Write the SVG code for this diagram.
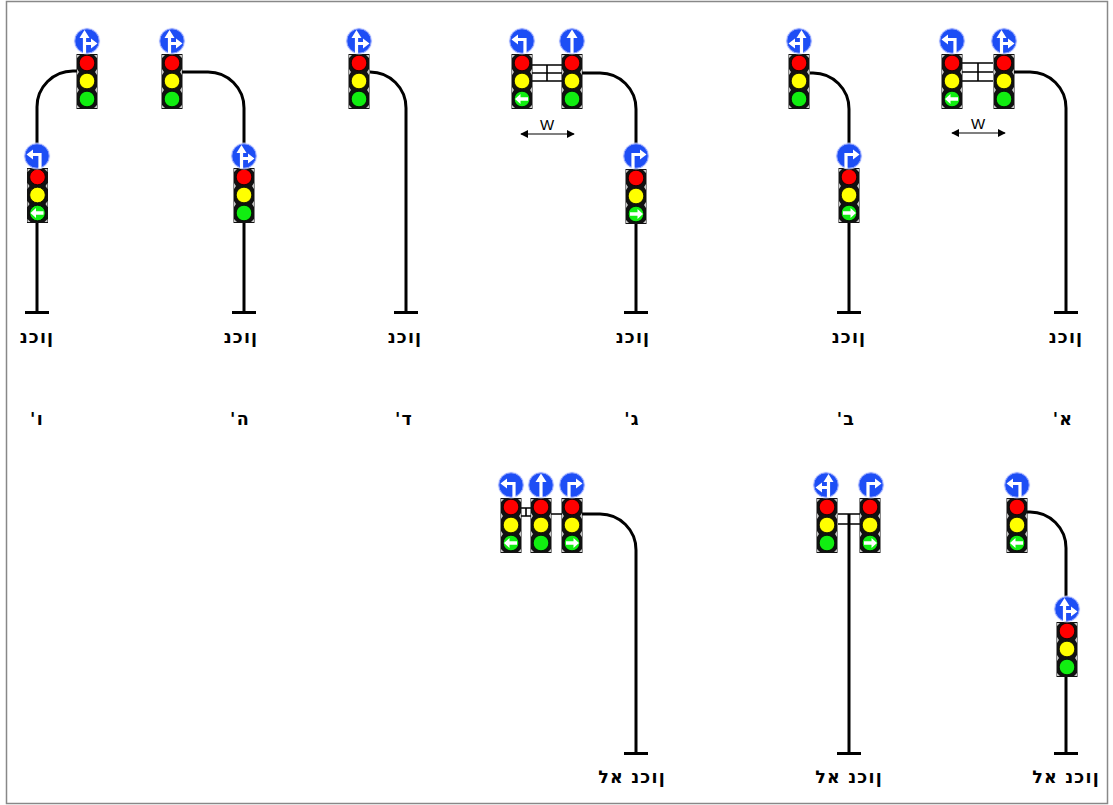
<svg xmlns="http://www.w3.org/2000/svg" xmlns:xlink="http://www.w3.org/1999/xlink" width="1113" height="805" viewBox="0 0 1113 805">
  <style>
    .pole { fill: none; stroke: #000; stroke-width: 3; }
    .bar { fill: none; stroke: #000; stroke-width: 1.6; }
    .lbl { font-family: "DejaVu Sans", "Liberation Sans", sans-serif; font-weight: bold; font-size: 17.5px; letter-spacing: 1.2px; text-anchor: middle; fill: #000; }
    .w { font-family: "Liberation Sans", Arial, sans-serif; font-size: 15px; text-anchor: middle; fill: #000; }
    .dim { stroke: #000; stroke-width: 1.2; fill: none; }
    .arw { fill: #fff; stroke: none; }
    .shaft { fill: none; stroke: #fff; stroke-width: 3.2; }
  </style>
  <defs>
    <marker id="tip" viewBox="0 0 10 10" refX="9" refY="5" markerWidth="8" markerHeight="8" orient="auto-start-reverse" markerUnits="userSpaceOnUse">
      <path d="M0,0 L10,5 L0,10 Z" fill="#000"/>
    </marker>
    <!-- signal head: centred on x=0, top edge at y=0 -->
    <g id="head">
      <rect x="-10.5" y="0" width="21" height="55" fill="#111"/>
      <g fill="#c8c8c8">
        <path d="M-10,1 L-7,1 L-10,4 Z M10,1 L7,1 L10,4 Z"/>
        <path d="M-10,15 L-10,21 L-8,18 Z M10,15 L10,21 L8,18 Z"/>
        <path d="M-10,33 L-10,39 L-8,36 Z M10,33 L10,39 L8,36 Z"/>
        <path d="M-10,54 L-7,54 L-10,51 Z M10,54 L7,54 L10,51 Z"/>
      </g>
      <circle cx="0" cy="9" r="7.8" fill="#ff0000" stroke="#000" stroke-width="0.8"/>
      <circle cx="0" cy="27" r="7.8" fill="#ffff00" stroke="#000" stroke-width="0.8"/>
      <circle cx="0" cy="45" r="7.8" fill="#11ee11" stroke="#000" stroke-width="0.8"/>
    </g>
    <!-- white arrows drawn in the green lamp -->
    <g id="gl">
      <path class="arw" d="M-7,0 L-1.5,-5 L-1.5,-1.7 L6,-1.7 L6,1.7 L-1.5,1.7 L-1.5,5 Z"/>
    </g>
    <g id="gr">
      <path class="arw" d="M7,0 L1.5,-5 L1.5,-1.7 L-6,-1.7 L-6,1.7 L1.5,1.7 L1.5,5 Z"/>
    </g>
    <!-- round blue lane signs, centred on 0,0 -->
    <g id="disc">
      <circle r="13.4" fill="#dfe4ff" opacity="0.7"/>
      <circle r="12.2" fill="#1d4ef5" stroke="#8fa3ff" stroke-width="1"/>
    </g>
    <g id="s-sr">
      <use xlink:href="#disc"/>
      <path class="shaft" d="M-2.5,12.5 V-4 M-2.5,2.5 H4"/>
      <path class="arw" d="M-2.5,-11 L-7.5,-3 L2.5,-3 Z M10.5,2.5 L4,-2.5 L4,7.5 Z"/>
    </g>
    <g id="s-sl">
      <use xlink:href="#s-sr" transform="scale(-1,1)"/>
    </g>
    <g id="s-lt">
      <use xlink:href="#disc"/>
      <path class="shaft" d="M3,12.5 V-1.5 H-4"/>
      <path class="arw" d="M-10.5,-1.5 L-4,-6.5 L-4,3.5 Z"/>
    </g>
    <g id="s-rt">
      <use xlink:href="#s-lt" transform="scale(-1,1)"/>
    </g>
    <g id="s-st">
      <use xlink:href="#disc"/>
      <path class="shaft" d="M0,12.5 V-4"/>
      <path class="arw" d="M0,-11.5 L-5.5,-3 L5.5,-3 Z"/>
    </g>
  </defs>

  <rect x="0" y="0" width="1113" height="805" fill="#fff"/>
  <rect x="6.5" y="1.5" width="1101" height="802" fill="none" stroke="#888" stroke-width="1.5"/>

  <!-- poles and mast arms -->
  <g id="connectors">
    <path class="pole" d="M1014,72 H1030 A36,36 0 0 1 1066,108 V312.5 M1054,312.5 H1078"/>
    <path class="pole" d="M810,73 H813 A36,36 0 0 1 849,109 V312.5 M837,312.5 H861"/>
    <path class="pole" d="M582,73 H600 A36,36 0 0 1 636,109 V312.5 M624,312.5 H648"/>
    <path class="pole" d="M370,72 A36,36 0 0 1 406,108 V312.5 M394,312.5 H418"/>
    <path class="pole" d="M182,72 H208 A36,36 0 0 1 244,108 V312.5 M232,312.5 H256"/>
    <path class="pole" d="M77,71 H73 A36,36 0 0 0 37,107 V312.5 M25,312.5 H49"/>
    <path class="pole" d="M1027,512 H1030 A36,36 0 0 1 1066,548 V753.5 M1054,753.5 H1078"/>
    <path class="pole" d="M849,514 V753.5 M837,753.5 H861"/>
    <path class="pole" d="M582,514 H600 A36,36 0 0 1 636,550 V753.5 M624,753.5 H648"/>
    <!-- cross bars between adjacent heads -->
    <path class="bar" d="M962,63 H993 M962,72 H993 M962,81 H993 M978,63 V81"/>
    <path class="bar" d="M532,65 H562 M532,73 H562 M532,81 H562 M547,65 V81"/>
    <path class="bar" d="M838,514 H860 M838,524 H860"/>
    <path class="bar" d="M521,508 H531 M521,516 H531 M526,508 V516 M551,514 H562"/>
    <!-- spacing dimensions -->
    <path class="dim" d="M952,133 H1005" marker-start="url(#tip)" marker-end="url(#tip)"/>
    <path class="dim" d="M521,134 H574" marker-start="url(#tip)" marker-end="url(#tip)"/>
  </g>

  <g id="panel-a">
    <use xlink:href="#head" x="952" y="54"/>
    <use xlink:href="#head" x="1004" y="54"/>
    <use xlink:href="#gl" x="952" y="99"/>
    <use xlink:href="#s-lt" x="952" y="41"/>
    <use xlink:href="#s-sr" x="1004" y="41"/>
    <text class="w" x="978" y="129">W</text>
    <text class="lbl" x="1066" y="343">ןוכנ</text>
    <text class="lbl" x="1063" y="425">'א</text>
  </g>

  <g id="panel-b">
    <use xlink:href="#head" x="799" y="54"/>
    <use xlink:href="#s-sl" x="799" y="41"/>
    <use xlink:href="#head" x="849" y="168"/>
    <use xlink:href="#gr" x="849" y="213"/>
    <use xlink:href="#s-rt" x="849" y="156"/>
    <text class="lbl" x="849" y="343">ןוכנ</text>
    <text class="lbl" x="846" y="425">'ב</text>
  </g>

  <g id="panel-c">
    <use xlink:href="#head" x="522" y="54"/>
    <use xlink:href="#gl" x="522" y="99"/>
    <use xlink:href="#s-lt" x="522" y="41"/>
    <use xlink:href="#head" x="572" y="54"/>
    <use xlink:href="#s-st" x="572" y="41"/>
    <use xlink:href="#head" x="636" y="169"/>
    <use xlink:href="#gr" x="636" y="214"/>
    <use xlink:href="#s-rt" x="636" y="156"/>
    <text class="w" x="547" y="130">W</text>
    <text class="lbl" x="633" y="343">ןוכנ</text>
    <text class="lbl" x="632" y="425">'ג</text>
  </g>

  <g id="panel-d">
    <use xlink:href="#head" x="359" y="54"/>
    <use xlink:href="#s-sr" x="359" y="41"/>
    <text class="lbl" x="405" y="343">ןוכנ</text>
    <text class="lbl" x="404" y="425">'ד</text>
  </g>

  <g id="panel-e">
    <use xlink:href="#head" x="172" y="54"/>
    <use xlink:href="#s-sr" x="172" y="41"/>
    <use xlink:href="#head" x="244" y="168"/>
    <use xlink:href="#s-sr" x="244" y="156"/>
    <text class="lbl" x="241" y="343">ןוכנ</text>
    <text class="lbl" x="240" y="425">'ה</text>
  </g>

  <g id="panel-f">
    <use xlink:href="#head" x="87" y="54"/>
    <use xlink:href="#s-sr" x="87" y="41"/>
    <use xlink:href="#head" x="37.5" y="168"/>
    <use xlink:href="#gl" x="37.5" y="213"/>
    <use xlink:href="#s-lt" x="37" y="156"/>
    <text class="lbl" x="37" y="343">ןוכנ</text>
    <text class="lbl" x="37" y="425">'ו</text>
  </g>

  <g id="panel-g">
    <use xlink:href="#head" x="1017" y="498"/>
    <use xlink:href="#gl" x="1017" y="543"/>
    <use xlink:href="#s-lt" x="1017" y="485"/>
    <use xlink:href="#head" x="1067" y="622"/>
    <use xlink:href="#s-sr" x="1067" y="609"/>
    <text class="lbl" x="1066" y="783">ןוכנ אל</text>
  </g>

  <g id="panel-h">
    <use xlink:href="#head" x="827" y="498"/>
    <use xlink:href="#s-sl" x="826" y="485"/>
    <use xlink:href="#head" x="870" y="498"/>
    <use xlink:href="#gr" x="870" y="543"/>
    <use xlink:href="#s-rt" x="871" y="485"/>
    <text class="lbl" x="849" y="783">ןוכנ אל</text>
  </g>

  <g id="panel-i">
    <use xlink:href="#head" x="511" y="498"/>
    <use xlink:href="#gl" x="511" y="543"/>
    <use xlink:href="#s-lt" x="511" y="485"/>
    <use xlink:href="#head" x="541" y="498"/>
    <use xlink:href="#s-st" x="541" y="485"/>
    <use xlink:href="#head" x="572" y="498"/>
    <use xlink:href="#gr" x="572" y="543"/>
    <use xlink:href="#s-rt" x="572" y="485"/>
    <text class="lbl" x="632" y="783">ןוכנ אל</text>
  </g>
</svg>
